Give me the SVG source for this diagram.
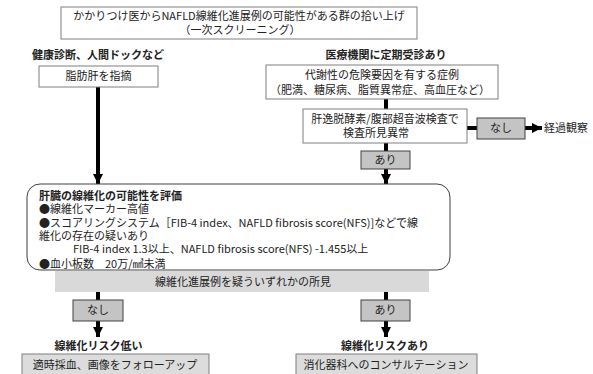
<svg xmlns="http://www.w3.org/2000/svg" width="593" height="374" viewBox="0 0 593 374">
<defs>
<style>
text{font-family:"Noto Sans CJK JP","Liberation Sans",sans-serif;font-size:11px;fill:#222}
.b{font-weight:bold}
.m{text-anchor:middle}
.wb{fill:#fff;stroke:#7f7f7f;stroke-width:1}
.gb{fill:#c4c4c4;stroke:#404040;stroke-width:1}
.lb{fill:#dcdcdc;stroke:#7f7f7f;stroke-width:1}
.c{stroke:#000;stroke-width:4;fill:none}
</style>
<marker id="ah" markerUnits="userSpaceOnUse" markerWidth="10" markerHeight="10" viewBox="0 0 10 10" refX="10" refY="5" orient="auto">
<path d="M0,0 L10,5 L0,10 Z" fill="#000"/>
</marker>
</defs>
<rect width="593" height="374" fill="#fff"/>
<g id="connectors">
<line class="c" x1="98" y1="87" x2="98" y2="184" marker-end="url(#ah)"/>
<line class="c" x1="386" y1="99" x2="386" y2="109"/>
<line class="c" x1="467" y1="128" x2="477" y2="128"/>
<line class="c" x1="525" y1="128" x2="542" y2="128" marker-end="url(#ah)"/>
<line class="c" x1="386" y1="143" x2="386" y2="151"/>
<line class="c" x1="386" y1="169" x2="386" y2="184" marker-end="url(#ah)"/>
<line class="c" x1="98" y1="292" x2="98" y2="300"/>
<line class="c" x1="98" y1="321" x2="98" y2="337" marker-end="url(#ah)"/>
<line class="c" x1="386" y1="292" x2="386" y2="300"/>
<line class="c" x1="386" y1="321" x2="386" y2="337" marker-end="url(#ah)"/>
</g>
<g id="title">
<rect class="wb" x="61" y="7" width="356" height="32"/>
<text class="m" x="239" y="20">かかりつけ医からNAFLD線維化進展例の可能性がある群の拾い上げ</text>
<text class="m" x="240" y="34">（一次スクリーニング）</text>
</g>
<g id="label-left"><text class="b" x="32" y="59">健康診断、人間ドックなど</text></g>
<g id="label-right"><text class="b m" x="386" y="59">医療機関に定期受診あり</text></g>
<g id="fatty-liver">
<rect class="wb" x="39" y="66" width="119" height="21"/>
<text class="m" x="98.5" y="80">脂肪肝を指摘</text>
</g>
<g id="metabolic">
<rect class="wb" x="266" y="65" width="232" height="34"/>
<text class="m" x="382" y="79">代謝性の危険要因を有する症例</text>
<text class="m" x="380" y="94">（肥満、糖尿病、脂質異常症、高血圧など）</text>
</g>
<g id="liver-test">
<rect class="wb" x="303" y="109" width="164" height="34"/>
<text class="m" x="385" y="123">肝逸脱酵素/腹部超音波検査で</text>
<text class="m" x="376" y="137">検査所見異常</text>
</g>
<g id="none1">
<rect class="gb" x="477" y="118" width="48" height="21"/>
<text class="m" x="501" y="132">なし</text>
</g>
<g id="followup1"><text x="544" y="132">経過観察</text></g>
<g id="yes1">
<rect class="gb" x="361" y="151" width="49" height="18"/>
<text class="m" x="385.5" y="164">あり</text>
</g>
<g id="evaluate">
<rect x="27" y="184" width="423" height="86" rx="13" ry="13" fill="#fff" stroke="#404040" stroke-width="1"/>
<text class="b" x="39" y="200">肝臓の線維化の可能性を評価</text>
<text x="39" y="213">●線維化マーカー高値</text>
<text x="39" y="227">●スコアリングシステム［FIB-4 index、NAFLD fibrosis score(NFS)]などで線</text>
<text x="39" y="240">維化の存在の疑いあり</text>
<text x="73" y="253">FIB-4 index 1.3以上、NAFLD fibrosis score(NFS) -1.455以上</text>
<text x="39" y="268">●血小板数　20万/㎣未満</text>
</g>
<g id="findings">
<rect x="55" y="271" width="374" height="21" fill="#d9d9d9"/>
<text class="m" x="243" y="286">線維化進展例を疑ういずれかの所見</text>
</g>
<g id="none2">
<rect class="gb" x="73" y="300" width="50" height="21"/>
<text class="m" x="98" y="314">なし</text>
</g>
<g id="yes2">
<rect class="gb" x="361" y="300" width="49" height="21"/>
<text class="m" x="385.5" y="314">あり</text>
</g>
<g id="low-risk"><text class="b m" x="98.5" y="350">線維化リスク低い</text></g>
<g id="high-risk"><text class="b m" x="385" y="350">線維化リスクあり</text></g>
<g id="followup2">
<rect class="lb" x="22" y="354" width="187" height="23"/>
<text class="m" x="115" y="369">適時採血、画像をフォローアップ</text>
</g>
<g id="consult">
<rect class="lb" x="296" y="354" width="181" height="23"/>
<text class="m" x="386" y="369">消化器科へのコンサルテーション</text>
</g>
</svg>
